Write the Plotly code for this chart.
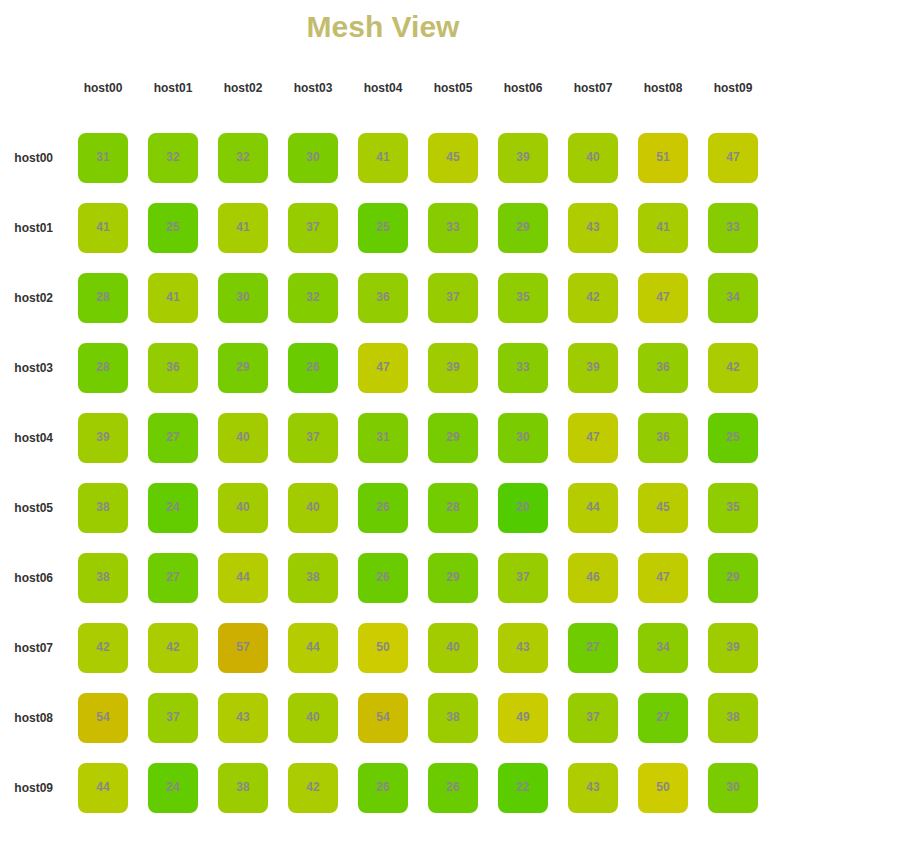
import plotly.graph_objects as go

hosts = ["host00", "host01", "host02", "host03", "host04",
         "host05", "host06", "host07", "host08", "host09"]

latency = [
    [31, 32, 32, 30, 41, 45, 39, 40, 51, 47],
    [41, 25, 41, 37, 25, 33, 29, 43, 41, 33],
    [28, 41, 30, 32, 36, 37, 35, 42, 47, 34],
    [28, 36, 29, 26, 47, 39, 33, 39, 36, 42],
    [39, 27, 40, 37, 31, 29, 30, 47, 36, 25],
    [38, 24, 40, 40, 26, 28, 20, 44, 45, 35],
    [38, 27, 44, 38, 26, 29, 37, 46, 47, 29],
    [42, 42, 57, 44, 50, 40, 43, 27, 34, 39],
    [54, 37, 43, 40, 54, 38, 49, 37, 27, 38],
    [44, 24, 38, 42, 26, 26, 22, 43, 50, 30],
]

xs, ys, vals = [], [], []
for r, row in enumerate(latency):
    for c, v in enumerate(row):
        xs.append(c)
        ys.append(r)
        vals.append(v)

colorscale = [[0.0, "rgb(0,204,0)"], [0.5, "rgb(204,204,0)"], [1.0, "rgb(204,0,0)"]]

fig = go.Figure(go.Scatter(
    x=xs, y=ys, mode="markers+text",
    marker=dict(symbol="square", size=34, color=vals, colorscale=colorscale,
                cmin=0, cmax=100, showscale=False,
                line=dict(width=16, color=vals, colorscale=colorscale, cmin=0, cmax=100)),
    text=[str(v) for v in vals], textposition="middle center",
    textfont=dict(family="Liberation Sans, Arial, sans-serif", size=12,
                  color="#888888", weight="bold"),
    hovertemplate="%{text}<extra></extra>",
))

fig.update_layout(
    width=917, height=845,
    margin=dict(l=68, r=149, t=123, b=22),
    paper_bgcolor="white", plot_bgcolor="white",
    showlegend=False,
    title=dict(text="Mesh View", x=383 / 917, xref="container", xanchor="center",
               y=1 - 26 / 845, yref="container", yanchor="middle",
               font=dict(family="Liberation Sans, Arial, sans-serif", size=30,
                         color="#C3BC6E", weight="bold")),
    font=dict(family="Liberation Sans, Arial, sans-serif"),
)
fig.update_xaxes(range=[-0.5, 9.5], side="top", tickvals=list(range(10)), ticktext=hosts,
                 showgrid=False, zeroline=False, showline=False, ticks="",
                 ticklabelstandoff=28,
                 tickfont=dict(size=12, color="#333333", weight="bold"))
fig.update_yaxes(range=[9.5, -0.5], tickvals=list(range(10)), ticktext=hosts,
                 showgrid=False, zeroline=False, showline=False, ticks="",
                 ticklabelstandoff=14,
                 tickfont=dict(size=12, color="#333333", weight="bold"))

round_corners = (
    "document.querySelectorAll('.scatterlayer .point')"
    ".forEach(function(p){p.style.strokeLinejoin='round';});"
)
fig.write_html("out.html", post_script=round_corners)
